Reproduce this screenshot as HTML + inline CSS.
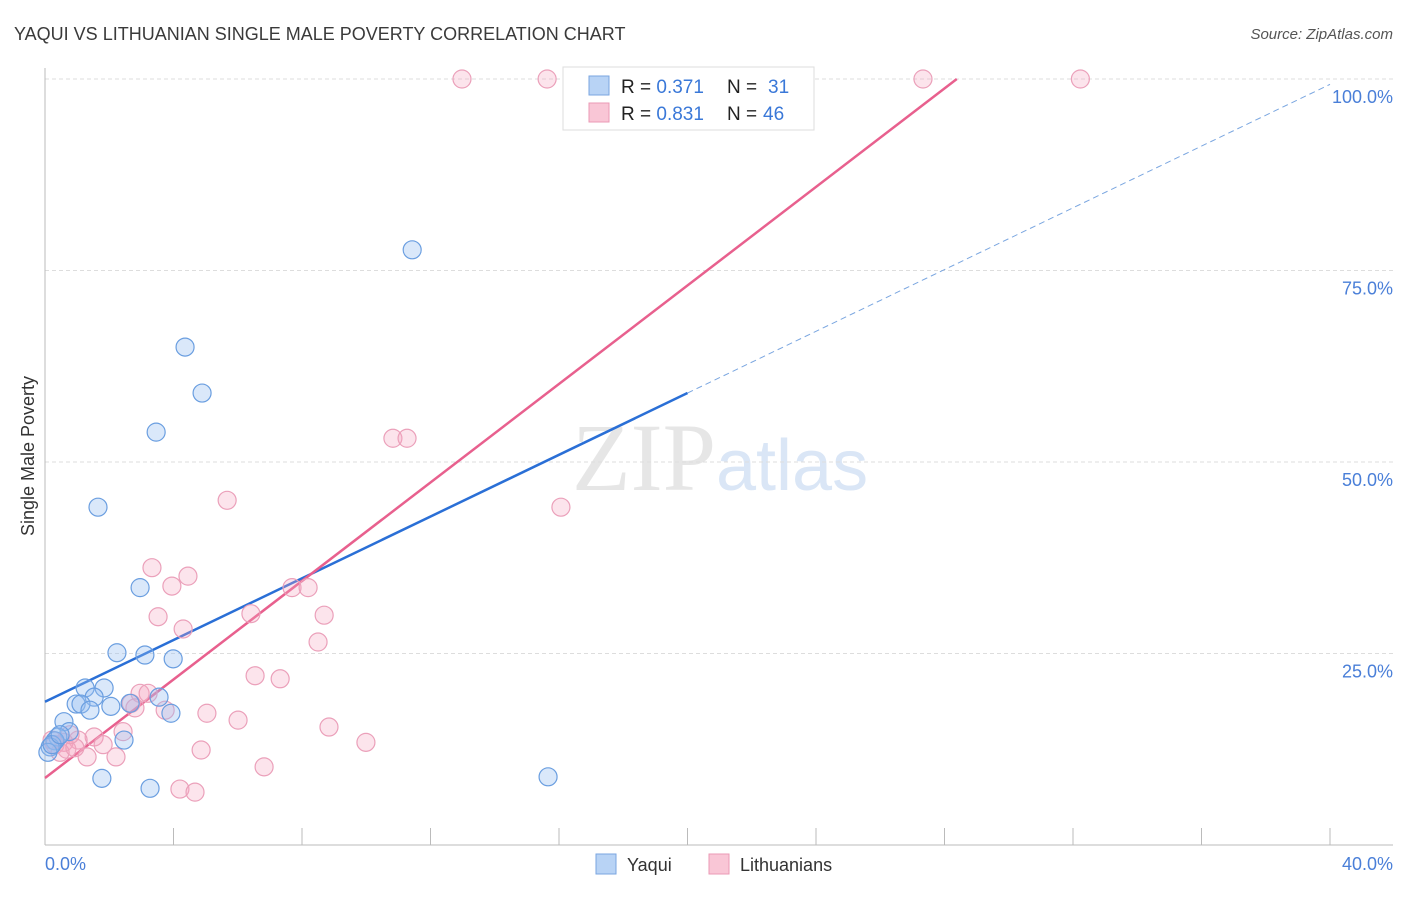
<!DOCTYPE html>
<html><head><meta charset="utf-8"><style>
body{margin:0;background:#fff;font-family:"Liberation Sans",sans-serif;}
</style></head><body>
<svg width="1406" height="892" xmlns="http://www.w3.org/2000/svg" font-family="Liberation Sans, sans-serif">
<text x="14" y="40" font-size="18" fill="#3a3a3a">YAQUI VS LITHUANIAN SINGLE MALE POVERTY CORRELATION CHART</text>
<text x="1393" y="39" font-size="15" fill="#555" text-anchor="end" font-style="italic">Source: ZipAtlas.com</text>
<text x="716" y="490" font-size="96" fill="#e6e6e6" text-anchor="end" font-family="Liberation Serif, serif">ZIP</text>
<text x="716" y="490" font-size="72" fill="#dae6f6">atlas</text>
<g id="grid"></g>
<line x1="45" y1="68" x2="45" y2="845" stroke="#bbb"/>
<line x1="45" y1="845" x2="1393" y2="845" stroke="#bbb"/>
<g id="ticks"></g>
<text x="34" y="456" font-size="18" fill="#333" text-anchor="middle" transform="rotate(-90 34 456)">Single Male Poverty</text>
<text x="45" y="870" font-size="18" fill="#4a7fd8">0.0%</text>
<text x="1393" y="870" font-size="18" fill="#4a7fd8" text-anchor="end">40.0%</text>
<g id="lines"></g>
<g id="points"></g>
<g>
<rect x="563" y="67" width="251" height="63" fill="#fff" stroke="#ddd"/>
<rect x="589" y="76" width="20" height="19" fill="#b8d3f5" stroke="#7aa6e0"/>
<rect x="589" y="103" width="20" height="19" fill="#f9c6d6" stroke="#eb9ab5"/>
<text x="621" y="93" font-size="19" fill="#222">R = <tspan fill="#3a78d8">0.371</tspan></text>
<text x="727" y="93" font-size="19" fill="#222">N = </text>
<text x="768" y="93" font-size="19" fill="#3a78d8">31</text>
<text x="621" y="120" font-size="19" fill="#222">R = <tspan fill="#3a78d8">0.831</tspan></text>
<text x="727" y="120" font-size="19" fill="#222">N = </text>
<text x="763" y="120" font-size="19" fill="#3a78d8">46</text>
</g>
<g>
<rect x="596" y="854" width="20" height="20" fill="#b8d3f5" stroke="#7aa6e0"/>
<text x="627" y="871" font-size="18" fill="#333">Yaqui</text>
<rect x="709" y="854" width="20" height="20" fill="#f9c6d6" stroke="#eb9ab5"/>
<text x="740" y="871" font-size="18" fill="#333">Lithuanians</text>
</g>
</svg>
<script>
const yTicks=[25,50,75,100];
const yTickLabels=["25.0%","50.0%","75.0%","100.0%"];
const xTicks=[0,4,8,12,16,20,24,28,32,36,40];
const yaquiX=[11.43,4.36,4.89,3.46,1.65,2.96,2.24,3.11,3.99,1.25,1.84,0.97,1.53,1.12,1.40,2.05,2.65,3.55,3.92,0.59,0.75,0.40,2.46,0.31,0.16,0.09,1.77,3.27,15.66,0.22,0.47];
const yaquiY=[77.7,65.0,59.0,53.9,44.1,33.6,25.1,24.8,24.3,20.5,20.5,18.4,19.3,18.4,17.6,18.1,18.5,19.3,17.2,16.1,14.8,14.1,13.7,13.6,12.8,12.1,8.7,7.4,8.9,13.1,14.4];
const lithX=[12.98,15.63,27.33,32.23,10.83,11.27,16.06,5.67,3.33,4.45,3.95,7.69,8.19,3.52,6.41,8.69,4.30,8.50,6.54,7.32,2.96,3.21,2.68,2.80,5.04,3.74,6.01,8.84,9.99,2.43,1.53,1.03,0.59,0.31,0.68,1.81,0.47,1.31,2.21,4.86,6.82,4.20,4.67,0.93,0.22,0.78];
const lithY=[100,100,100,100,53.1,53.1,44.1,45.0,36.2,35.1,33.8,33.6,33.6,29.8,30.2,30.0,28.2,26.5,22.1,21.7,19.8,19.8,18.5,17.9,17.2,17.6,16.3,15.4,13.4,14.8,14.1,13.7,13.4,13.1,12.5,13.1,12.1,11.5,11.5,12.4,10.2,7.3,6.9,12.7,13.7,14.4];
const yaquiFit=[18.7,2.015];
const lithFit=[8.75,3.215];
const NS="http://www.w3.org/2000/svg";
const sx=v=>45+v/40*1285, sy=v=>845-v*7.66;
function mk(t,a,p){const e=document.createElementNS(NS,t);for(const k in a)e.setAttribute(k,a[k]);document.getElementById(p).appendChild(e);return e;}
yTicks.forEach((v,i)=>{
 const g=mk('line',{x1:45,x2:1393,y1:sy(v),y2:sy(v),stroke:'#ddd','stroke-dasharray':'4,3'},'grid');
 
 
 const t=mk('text',{x:1393,y:sy(v)+24,'font-size':18,fill:'#4a7fd8','text-anchor':'end'},'grid');
 t.textContent=yTickLabels[i];
 
 
});
xTicks.forEach(v=>{
 const t=mk('line',{x1:sx(v),x2:sx(v),y1:828,y2:845,stroke:'#bbb'},'ticks');
 
 
});
let l=mk('line',{x1:sx(0),y1:sy(yaquiFit[0]),x2:sx(20),y2:sy(yaquiFit[0]+20*yaquiFit[1]),stroke:'#2a6fd6','stroke-width':2.5},'lines');


l=mk('line',{x1:sx(20),y1:sy(yaquiFit[0]+20*yaquiFit[1]),x2:sx(40),y2:sy(yaquiFit[0]+40*yaquiFit[1]),stroke:'#7aa6e0','stroke-width':1,'stroke-dasharray':'6,4'},'lines');


const xe=(100-lithFit[0])/lithFit[1];
l=mk('line',{x1:sx(0),y1:sy(lithFit[0]),x2:sx(xe),y2:sy(100),stroke:'#e8608e','stroke-width':2.5},'lines');


lithX.forEach((x,i)=>{
 const c=mk('circle',{cx:sx(x),cy:sy(lithY[i]),r:9,fill:'rgba(245,165,192,0.3)',stroke:'#eba0ba','stroke-width':1.2},'points');
 
 
});
yaquiX.forEach((x,i)=>{
 const c=mk('circle',{cx:sx(x),cy:sy(yaquiY[i]),r:9,fill:'rgba(150,190,240,0.35)',stroke:'#6a9ee0','stroke-width':1.2},'points');
 
 
});
</script>
</body></html>
